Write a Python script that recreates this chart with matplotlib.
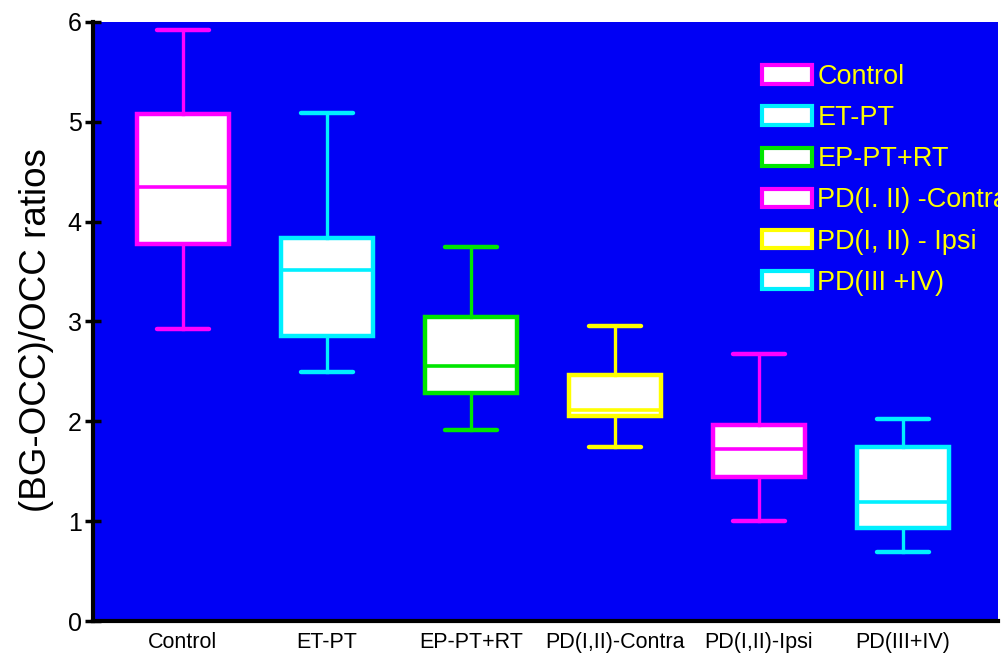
import matplotlib
matplotlib.use("Agg")
import matplotlib.pyplot as plt
from matplotlib.patches import Patch

# box statistics
groups = ['Control', 'ET-PT', 'EP-PT+RT', 'PD(I,II)-Contra', 'PD(I,II)-Ipsi', 'PD(III+IV)']
whis_hi = [5.92, 5.09, 3.75, 2.95, 2.67, 2.02]
q3 = [5.08, 3.84, 3.05, 2.46, 1.96, 1.74]
medians = [4.35, 3.52, 2.55, 2.11, 1.72, 1.19]
q1 = [3.78, 2.85, 2.28, 2.05, 1.44, 0.93]
whis_lo = [2.92, 2.49, 1.91, 1.74, 1.00, 0.69]
box_colors = ['#ff00ff', '#00f0ff', '#00e600', '#ffff00', '#ff00ff', '#00f0ff']

# legend (as printed in the original, colours do not follow the boxes)
legend_labels = ['Control', 'ET-PT', 'EP-PT+RT', 'PD(I. II) -Contra', 'PD(I, II) - Ipsi', 'PD(III +IV)']
legend_colors = ['#ff00ff', '#00f0ff', '#00e600', '#ff00ff', '#ffff00', '#00f0ff']

plt.rcParams['font.family'] = ['Liberation Sans', 'DejaVu Sans']

fig = plt.figure(figsize=(10.04, 6.58), dpi=100)
ax = fig.add_axes([0.0926, 0.0562, 0.9014, 0.9104])
ax.set_facecolor('#0000f5')

stats = []
for i in range(len(groups)):
    stats.append({'label': groups[i], 'med': medians[i], 'q1': q1[i], 'q3': q3[i],
                  'whislo': whis_lo[i], 'whishi': whis_hi[i], 'fliers': []})

bp = ax.bxp(stats, positions=range(1, 7), widths=0.64, patch_artist=True,
            showfliers=False, capwidths=0.36)
for i, c in enumerate(box_colors):
    bp['boxes'][i].set(facecolor='white', edgecolor=c, linewidth=3.2)
    bp['medians'][i].set(color=c, linewidth=2.6)
    for w in bp['whiskers'][2 * i:2 * i + 2]:
        w.set(color=c, linewidth=2.4)
    for cp in bp['caps'][2 * i:2 * i + 2]:
        cp.set(color=c, linewidth=3.2, solid_capstyle='round')

ax.set_xlim(0.375, 6.66)
ax.set_ylim(0, 6)
ax.set_yticks(range(0, 7))
ax.set_xticks(range(1, 7))
ax.set_xticklabels(groups, fontsize=15.5)
ax.tick_params(axis='x', length=0, pad=8)
ax.tick_params(axis='y', direction='inout', length=12, width=2.5, labelsize=18, pad=2)

for s in ['top', 'right']:
    ax.spines[s].set_visible(False)
ax.spines['left'].set_linewidth(3)
ax.spines['bottom'].set_linewidth(3)

ax.set_ylabel('(BG-OCC)/OCC ratios', fontsize=26.5)
ax.yaxis.set_label_coords(-0.043, 0.486)

handles = [Patch(facecolor='white', edgecolor=c, linewidth=3) for c in legend_colors]
leg = ax.legend(handles, legend_labels, loc='upper left', bbox_to_anchor=(0.739, 0.93),
                frameon=False, fontsize=19.5, labelcolor='#ffff00', handlelength=1.85,
                handleheight=0.66, handletextpad=0.2, labelspacing=0.56, borderpad=0,
                borderaxespad=0)
for t in leg.get_texts():
    t.set_clip_on(True)
    t.set_clip_box(ax.bbox)

fig.savefig('out.png', dpi=100)
